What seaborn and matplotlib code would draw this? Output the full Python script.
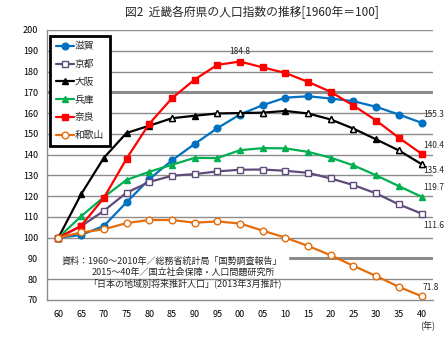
import matplotlib
matplotlib.use("Agg")
import matplotlib.pyplot as plt
import seaborn as sns
import pandas as pd

sns.set_theme(style="white")
plt.rcParams['font.family'] = ['Noto Sans CJK JP', 'DejaVu Sans']

years = ["60", "65", "70", "75", "80", "85", "90", "95", "00", "05",
         "10", "15", "20", "25", "30", "35", "40"]

shiga = [100.0, 101.3, 105.6, 117.0, 128.1, 137.2, 145.1, 152.7, 159.3, 163.8,
         167.4, 168.1, 167.0, 165.7, 163.0, 159.3, 155.3]
kyoto = [100.0, 105.5, 112.9, 121.6, 126.8, 129.8, 130.6, 131.9, 132.7, 132.8,
         132.2, 131.2, 128.5, 125.3, 121.3, 116.0, 111.6]
osaka = [100.0, 120.9, 138.4, 150.4, 153.9, 157.5, 158.7, 159.8, 160.0, 160.2,
         161.0, 159.8, 156.9, 152.5, 147.3, 142.0, 135.4]
hyogo = [100.0, 110.3, 119.5, 127.8, 131.7, 135.1, 138.4, 138.3, 142.1, 143.1,
         143.0, 141.3, 138.5, 134.8, 130.0, 124.8, 119.7]
nara = [100.0, 105.7, 119.1, 138.0, 154.8, 167.1, 176.1, 183.2, 184.8, 182.0,
        179.3, 175.0, 170.2, 163.6, 156.4, 148.1, 140.4]
wakayama = [100.0, 102.5, 104.0, 107.0, 108.5, 108.5, 107.2, 107.8, 106.8, 103.4,
            100.0, 96.0, 91.5, 86.4, 81.5, 76.3, 71.8]

names = ["滋賀", "京都", "大阪", "兵庫", "奈良", "和歌山"]
series = [shiga, kyoto, osaka, hyogo, nara, wakayama]
colors = ["#0070C0", "#604A7B", "#000000", "#00B050", "#FF0000", "#E46C0A"]
markers = ["o", "s", "^", "^", "s", "o"]
faces = [None, "white", None, None, None, "white"]

fig = plt.figure(figsize=(4.44, 3.37), dpi=100)
ax = fig.add_axes([0.106, 0.110, 0.869, 0.801])

x = list(range(len(years)))
for name, vals, c, m, fc in zip(names, series, colors, markers, faces):
    df = pd.DataFrame({"x": x, "v": vals})
    kw = dict(markerfacecolor=fc if fc else c, markeredgecolor=c,
              markeredgewidth=1.0)
    sns.lineplot(data=df, x="x", y="v", ax=ax, color=c, marker=m,
                 markersize=4.8, linewidth=1.6, label=name, **kw)

# hollow triangles on part of the Osaka line
osaka_hollow = [5, 7, 8, 9, 11, 12, 13, 15, 16]
ax.plot([x[i] for i in osaka_hollow], [osaka[i] for i in osaka_hollow],
        linestyle="none", marker="^", markersize=4.8, markerfacecolor="white",
        markeredgecolor="black", markeredgewidth=1.0, zorder=5)

ax.set_xlim(-0.5, len(years) - 0.5)
ax.set_ylim(70, 200)
ax.set_yticks(range(70, 201, 10))
ax.set_xticks(x)
ax.set_xticklabels(years)
ax.set_xticks([i - 0.5 for i in range(len(years) + 1)], minor=True)
ax.set_xlabel("")
ax.set_ylabel("")

for yv in range(80, 201, 10):
    lw = 2.2 if yv in (170, 90) else 1.0
    ax.axhline(yv, color="#8C8C8C", linewidth=lw, zorder=0)

for s in ["top", "right"]:
    ax.spines[s].set_visible(False)
for s in ["left", "bottom"]:
    ax.spines[s].set_color("#8C8C8C")
    ax.spines[s].set_linewidth(1.0)

ax.tick_params(axis="x", which="major", length=0, labelsize=6.5, pad=7,
               colors="black")
ax.tick_params(axis="x", which="minor", length=4, color="#8C8C8C", width=1)
ax.tick_params(axis="y", length=3, color="#8C8C8C", width=1, labelsize=6.5,
               labelcolor="black")

leg = ax.legend(loc="upper left", bbox_to_anchor=(0.003, 0.985), fontsize=7,
                frameon=True, fancybox=False, handlelength=1.9,
                handletextpad=0.1, labelspacing=0.8, borderpad=0.55,
                borderaxespad=0.2)
leg.get_frame().set_edgecolor("black")
leg.get_frame().set_linewidth(2.0)
leg.get_frame().set_alpha(1.0)

fig.text(0.568, 0.962, "図2  近畿各府県の人口指数の推移[1960年＝100]",
         ha="center", va="center", fontsize=8.5)

ax.annotate(f"{nara[8]:.1f}", (x[8], nara[8]), xytext=(0, 7),
            textcoords="offset points", ha="center", va="center", fontsize=6)
end_labels = [(shiga, 1, 6), (nara, 1, 6), (osaka, 1, -4.5),
              (hyogo, 1, 6.5), (kyoto, 1, -8.5), (wakayama, 1, 6.5)]
for vals, dx, dy in end_labels:
    ax.annotate(f"{vals[-1]:.1f}", (x[-1], vals[-1]), xytext=(dx, dy),
                textcoords="offset points", ha="left", va="center",
                fontsize=6, annotation_clip=False)

src_lines = [
    ("資料：1960～2010年／総務省統計局「国勢調査報告」", 62, 261),
    ("2015～40年／国立社会保障・人口問題研究所", 92, 272),
    ("「日本の地域別将来推計人口」(2013年3月推計)", 88, 283),
]
for txt, px, py in src_lines:
    fig.text(px / 444, 1 - py / 337, txt, fontsize=6.5, ha="left",
             va="center", zorder=6)
# white panel behind the source note
ax.fill_between([-0.45, 10.1], 86.5, 92.5, color="white", zorder=0.5)

fig.text(0.962, 0.032, "(年)", ha="center", va="center", fontsize=6.5)

fig.savefig("out.png", dpi=100, facecolor="white")
